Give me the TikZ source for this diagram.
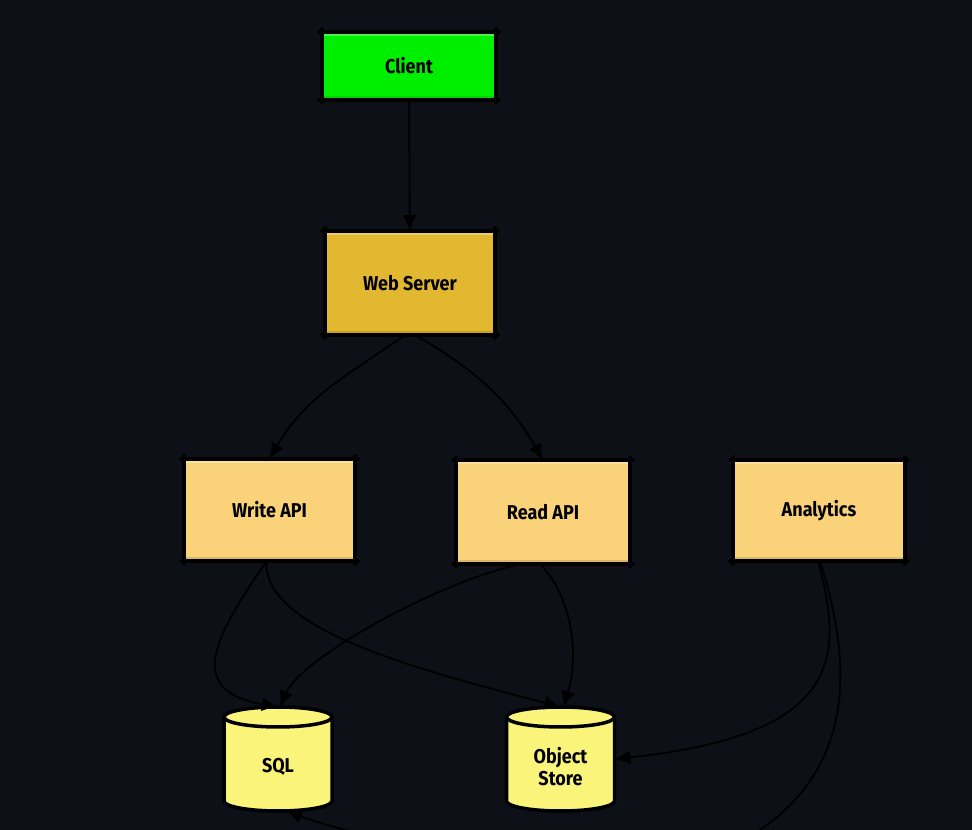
\documentclass[tikz,border=0pt]{standalone}
\usepackage{fontspec}
\setmainfont[FakeStretch=0.9]{Fira Sans}
\usetikzlibrary{arrows.meta}
\definecolor{bg}{HTML}{0D1017}
\definecolor{clientg}{HTML}{00EE00}
\definecolor{webc}{HTML}{E2B830}
\definecolor{apic}{HTML}{F9D27A}
\definecolor{dbc}{HTML}{FAF47A}
\newcommand\skbox[1]{%
  \draw[line width=3.5pt, line cap=round]
    ([xshift=-3pt]#1.north west) -- ([xshift=3pt]#1.north east)
    ([xshift=-3pt]#1.south west) -- ([xshift=3pt]#1.south east)
    ([yshift=3pt]#1.north west) -- ([yshift=-3pt]#1.south west)
    ([yshift=3pt]#1.north east) -- ([yshift=-3pt]#1.south east);
}
\newcommand\dbcyl[2]{%
  \filldraw[fill=dbc, draw=black, line width=3.5pt, line join=round]
    (#1-54,#2+42) -- (#1-54,#2-42)
    arc[start angle=180, end angle=360, x radius=54pt, y radius=10pt]
    -- (#1+54,#2+42)
    arc[start angle=0, end angle=180, x radius=54pt, y radius=10pt] -- cycle;
  \draw[line width=3.5pt]
    (#1-54,#2+42) arc[start angle=180, end angle=360, x radius=54pt, y radius=10pt];
}
\begin{document}
\begin{tikzpicture}[x=1pt, y=1pt,
  box/.style={rectangle, draw=black, line width=3.5pt, outer sep=0pt, inner sep=0pt,
    font=\fontsize{20}{22}\selectfont\bfseries, text=black, align=center,
    path picture={\fill[white, opacity=0.3] ([yshift=-1pt]path picture bounding box.north west) rectangle ([yshift=-4pt]path picture bounding box.north east);
                  \fill[black, opacity=0.12] ([yshift=1pt]path picture bounding box.south west) rectangle ([yshift=4pt]path picture bounding box.south east);}},
  dbshape/.style={rectangle, outer sep=0pt, inner sep=0pt, minimum width=108pt, minimum height=104pt},
  dblabel/.style={font=\fontsize{20}{22}\selectfont\bfseries, text=black, align=center, inner sep=0pt},
  conn/.style={draw=black, line width=1.8pt, -{Latex[length=16pt, width=14pt]}}
]
\fill[bg] (0,0) rectangle (972,830);
\useasboundingbox (0,0) rectangle (972,830);

% boxes
\node[box, fill=clientg, minimum width=174pt, minimum height=68pt] (client) at (409,764) {Client};
\node[box, fill=webc, minimum width=170pt, minimum height=104pt] (web) at (410,547) {Web Server};
\node[box, fill=apic, minimum width=171pt, minimum height=102pt] (wapi) at (269.5,320) {Write API};
\node[box, fill=apic, minimum width=174pt, minimum height=104pt] (rapi) at (543,318) {Read API};
\node[box, fill=apic, minimum width=172pt, minimum height=101pt] (ana) at (819,319.5) {Analytics};
\skbox{client}
\skbox{web}
\skbox{wapi}
\skbox{rapi}
\skbox{ana}

% databases
\dbcyl{278}{71}
\dbcyl{560.5}{71}
\node[dbshape, label={[dblabel, yshift=-8pt]center:SQL}] (sql) at (278,71) {};
\node[dbshape, label={[dblabel, yshift=-8pt]center:{Object\\Store}}] (obj) at (560.5,71) {};

% connectors
\draw[conn] (client) -- (web);
\draw[conn] ([xshift=-5pt]web.south) to[out=215, in=60] (wapi.north);
\draw[conn] ([xshift=5pt]web.south) to[out=-30, in=120] (rapi.north);

\draw[conn] ([xshift=-3pt]wapi.south) .. controls (220,200) and (180,140) .. (sql.north);
\draw[conn] ([xshift=-3pt]wapi.south) .. controls (262,200) and (420,160) .. (obj.north);

\draw[conn] ([xshift=-23pt]rapi.south) .. controls (430,245) and (300,170) .. ([xshift=2pt]sql.north);
\draw[conn] ([xshift=-3pt]rapi.south) .. controls (575,230) and (578,170) .. ([xshift=3pt]obj.north);

\coordinate (bend) at (760,0);
\draw[conn] ([xshift=-1pt]ana.south) .. controls (845,170) and (840,95) .. (obj.east);
\draw[conn] ([xshift=1pt]ana.south) .. controls (848,180) and (862,70) .. (bend)
  .. controls (690,-49) and (420,-30) .. ([xshift=8pt]sql.south);
\end{tikzpicture}
\end{document}
